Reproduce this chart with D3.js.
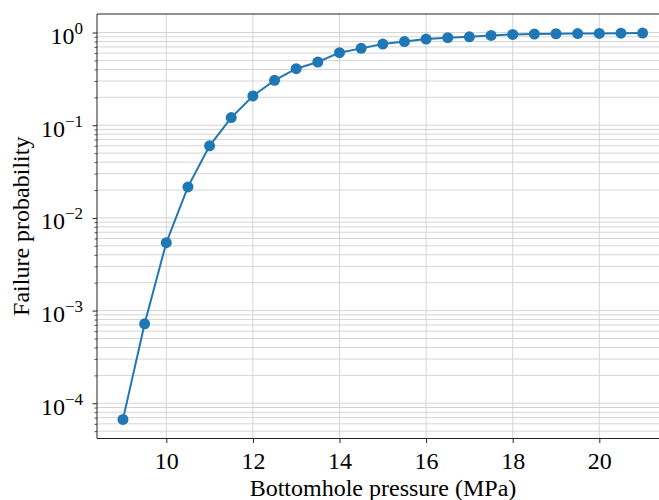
<!DOCTYPE html>
<html>
<head>
<meta charset="utf-8">
<script src="https://cdn.jsdelivr.net/npm/d3@7"></script>
<style>
  html, body { margin: 0; padding: 0; background: #ffffff; }
  svg { display: block; }
  text { font-family: "Liberation Serif", "Times New Roman", serif; fill: #000; }
</style>
</head>
<body>
<svg id="chart" width="659" height="500"></svg>
<script>
// Data
const pressure = [9, 9.5, 10, 10.5, 11, 11.5, 12, 12.5, 13, 13.5, 14, 14.5, 15,
                  15.5, 16, 16.5, 17, 17.5, 18, 18.5, 19, 19.5, 20, 20.5, 21];
const failureProb = [6.7e-5, 7.2e-4, 5.4e-3, 0.0216, 0.060, 0.121, 0.207, 0.305, 0.407,
                     0.481, 0.606, 0.675, 0.751, 0.80, 0.851, 0.88, 0.90, 0.93, 0.955,
                     0.963, 0.97, 0.975, 0.978, 0.985, 0.988];
const xTicks = [10, 12, 14, 16, 18, 20];
const yTickExponents = [-4, -3, -2, -1, 0];
const xLabel = "Bottomhole pressure (MPa)";
const yLabel = "Failure probability";

(function () {
const svg = d3.select("#chart");
const pLeft = 97, pTop = 14, pBottom = 438.5, pRight = 668.6;

const x = d3.scaleLinear().domain([8.4, 21.6]).range([pLeft, pRight]);
const y = d3.scaleLog().domain([Math.pow(10, -4.38), Math.pow(10, 0.2)]).range([pBottom, pTop]);

const gridColor = "#d4d4d4";
const g = svg.append("g");

const minorVals = [];
for (let e = -5; e <= 0; e++) {
  for (let m = 2; m <= 9; m++) {
    const v = m * Math.pow(10, e);
    if (v >= y.domain()[0] && v <= y.domain()[1]) minorVals.push(v);
  }
}
const majorVals = yTickExponents.map(e => Math.pow(10, e));

// grid lines
g.append("g").selectAll("line").data(minorVals.concat(majorVals)).join("line")
  .attr("x1", pLeft).attr("x2", pRight)
  .attr("y1", d => y(d)).attr("y2", d => y(d))
  .attr("stroke", gridColor).attr("stroke-width", 1);
g.append("g").selectAll("line").data(xTicks).join("line")
  .attr("x1", d => x(d)).attr("x2", d => x(d))
  .attr("y1", pTop).attr("y2", pBottom)
  .attr("stroke", gridColor).attr("stroke-width", 1);

// x axis
const xAxis = d3.axisBottom(x).tickValues(xTicks).tickSize(4.5).tickFormat(d3.format("d"));
const gx = svg.append("g").attr("transform", `translate(0,${pBottom})`).call(xAxis);
gx.select(".domain").remove();
gx.selectAll(".tick line").attr("stroke", "#222").attr("stroke-width", 1);
gx.selectAll(".tick text").attr("font-size", 24).attr("font-family", "Liberation Serif")
  .attr("fill", "#000").attr("y", 30).attr("dy", 0);

// y axis major
const yAxis = d3.axisLeft(y).tickValues(majorVals).tickSize(4.5).tickFormat("");
const gy = svg.append("g").attr("transform", `translate(${pLeft},0)`).call(yAxis);
gy.select(".domain").remove();
gy.selectAll(".tick line").attr("stroke", "#222").attr("stroke-width", 1);
gy.selectAll(".tick").each(function(d) {
  const e = Math.round(Math.log10(d));
  const supTxt = e < 0 ? "\u2212" + Math.abs(e) : String(e);
  const sup = d3.select(this).append("text")
    .attr("x", -14).attr("y", 1)
    .attr("text-anchor", "end").attr("font-size", 17).attr("fill", "#000")
    .attr("font-family", "Liberation Serif")
    .text(supTxt);
  const w = sup.node().getComputedTextLength();
  d3.select(this).append("text")
    .attr("x", -14 - w).attr("y", 11)
    .attr("text-anchor", "end").attr("font-size", 24).attr("fill", "#000")
    .attr("font-family", "Liberation Serif")
    .text("10");
});
// y axis minor
const yMinor = d3.axisLeft(y).tickValues(minorVals).tickSize(2.5).tickFormat("");
const gym = svg.append("g").attr("transform", `translate(${pLeft},0)`).call(yMinor);
gym.select(".domain").remove();
gym.selectAll(".tick line").attr("stroke", "#222").attr("stroke-width", 0.8);

// spines
const spine = (x1, y1, x2, y2) => svg.append("line").attr("x1", x1).attr("y1", y1)
  .attr("x2", x2).attr("y2", y2).attr("stroke", "#222").attr("stroke-width", 1);
spine(pLeft, pTop, pLeft, pBottom);
spine(pLeft, pBottom, pRight, pBottom);
spine(pLeft, pTop, pRight, pTop);
spine(pRight, pTop, pRight, pBottom);

// data line and markers
const color = "#1f77b4";
const pts = pressure.map((p, i) => [p, failureProb[i]]);
svg.append("path").datum(pts)
  .attr("fill", "none").attr("stroke", color).attr("stroke-width", 2)
  .attr("d", d3.line().x(d => x(d[0])).y(d => y(d[1])));
svg.append("g").selectAll("circle").data(pts).join("circle")
  .attr("cx", d => x(d[0])).attr("cy", d => y(d[1])).attr("r", 5.5)
  .attr("fill", color);

// labels
svg.append("text").attr("x", 383).attr("y", 496)
  .attr("text-anchor", "middle").attr("font-size", 24).text(xLabel);
svg.append("text").attr("transform", `translate(29,${(pTop + pBottom) / 2}) rotate(-90)`)
  .attr("text-anchor", "middle").attr("font-size", 24).text(yLabel);
})();
</script>
</body>
</html>
